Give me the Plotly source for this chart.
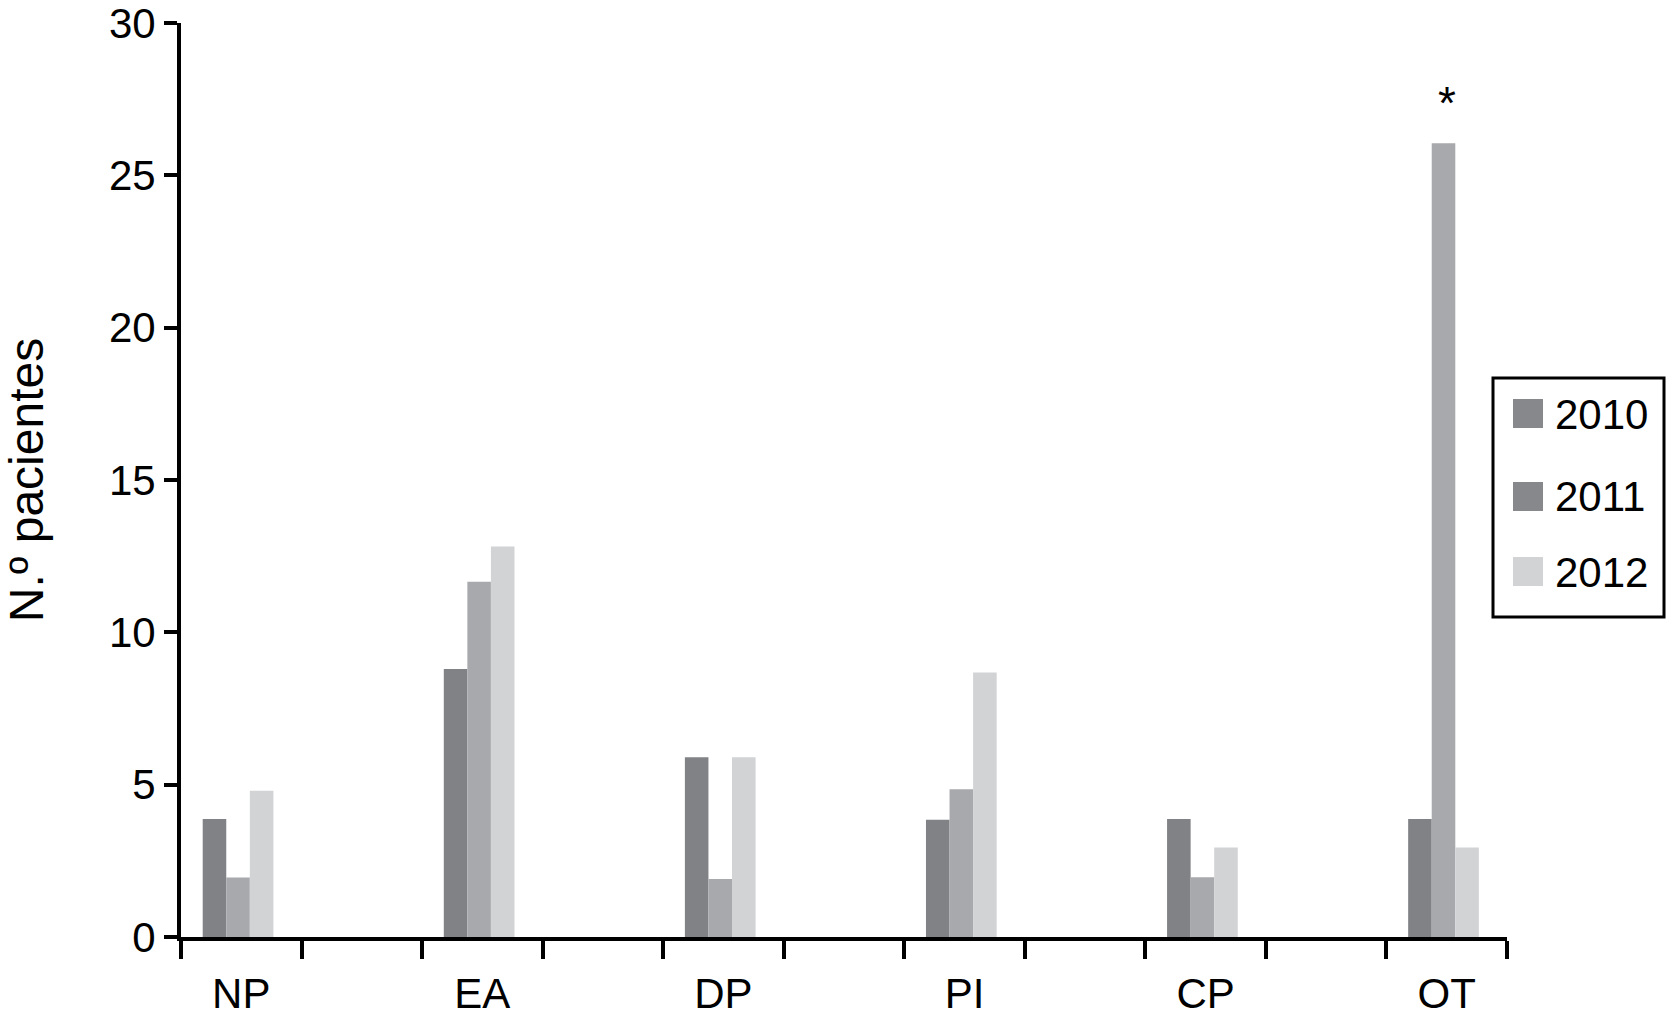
import plotly.graph_objects as go

categories = ["NP", "EA", "DP", "PI", "CP", "OT"]
years = ["2010", "2011", "2012"]
v2010 = [3.87, 8.8, 5.9, 3.85, 3.87, 3.87]
v2011 = [1.95, 11.66, 1.9, 4.85, 1.96, 26.05]
v2012 = [4.8, 12.82, 5.9, 8.68, 2.94, 2.94]
bar_colors = ["#818286", "#a8a9ac", "#d2d3d5"]
legend_colors = ["#87888b", "#87888b", "#d2d3d5"]
y_ticks = [0, 5, 10, 15, 20, 25, 30]

FONT = "Liberation Sans, Arial, Helvetica, sans-serif"

# categories occupy every other slot on the axis
xpos = [2 * i for i in range(len(categories))]
n_slots = 2 * len(categories) - 1
boundaries = [k - 0.5 for k in range(n_slots + 1)]

bw = 0.1955
start = -0.32

fig = go.Figure()
for i, (yr, vals) in enumerate(zip(years, [v2010, v2011, v2012])):
    fig.add_trace(go.Bar(
        x=xpos, y=vals, name=yr,
        width=bw, offset=start + i * bw,
        marker=dict(color=bar_colors[i], line=dict(width=0)),
        showlegend=False,
    ))

# asterisk above OT 2011
fig.add_annotation(x=xpos[5], y=v2011[5], text="*", showarrow=False,
                   yanchor="bottom", yshift=12,
                   font=dict(family=FONT, size=46, color="black"))

# plot area geometry (px) for manual legend in paper coords
L, R, T, B = 181, 160, 23, 82
W, H = 1667, 1019
pw, ph = W - L - R, H - T - B

def px_x(px):
    return (px - L) / pw

def px_y(py):
    return (H - B - py) / ph

fig.add_shape(type="rect", xref="paper", yref="paper",
              x0=px_x(1493), x1=px_x(1664), y0=px_y(617), y1=px_y(378),
              line=dict(color="black", width=3), fillcolor="white", layer="above")
sw_top = [399, 482, 557]
text_y = [415, 497, 572]
for i, yr in enumerate(years):
    fig.add_shape(type="rect", xref="paper", yref="paper",
                  x0=px_x(1513), x1=px_x(1543),
                  y0=px_y(sw_top[i] + 29), y1=px_y(sw_top[i]),
                  line=dict(width=0), fillcolor=legend_colors[i], layer="above")
    fig.add_annotation(xref="paper", yref="paper", x=px_x(1553), y=px_y(text_y[i]),
                       xanchor="left", yanchor="middle", text=yr, showarrow=False,
                       font=dict(family=FONT, size=42, color="black"))

fig.update_layout(
    width=W, height=H,
    margin=dict(l=L, r=R, t=T, b=B, pad=0, autoexpand=False),
    paper_bgcolor="white", plot_bgcolor="white",
    barmode="overlay",
    font=dict(family=FONT, color="black"),
    showlegend=False,
)
fig.update_xaxes(
    automargin=False,
    range=[boundaries[0], boundaries[-1]],
    tickmode="array", tickvals=xpos, ticktext=categories,
    ticks="", ticklabelstandoff=17, ticklabeloverflow="allow",
    tickfont=dict(family=FONT, size=42, color="black"),
    showline=True, linecolor="black", linewidth=4,
    showgrid=False, zeroline=False,
    minor=dict(tickmode="array", tickvals=boundaries, ticks="outside",
               ticklen=18, tickwidth=4, tickcolor="black", showgrid=False),
)
fig.update_yaxes(
    automargin=False,
    range=[0, 30],
    tickmode="array", tickvals=y_ticks,
    ticks="outside", ticklen=13, tickwidth=4, tickcolor="black",
    ticklabeloverflow="allow",
    tickfont=dict(family=FONT, size=42, color="black"),
    showline=True, linecolor="black", linewidth=4,
    showgrid=False, zeroline=False,
    title=dict(text="N.\u00ba pacientes", standoff=61,
               font=dict(family=FONT, size=48, color="black")),
)

fig.write_html(
    "out.html",
    config={"displayModeBar": False},
    post_script="document.body.style.margin='0';document.body.style.overflow='hidden';",
)
